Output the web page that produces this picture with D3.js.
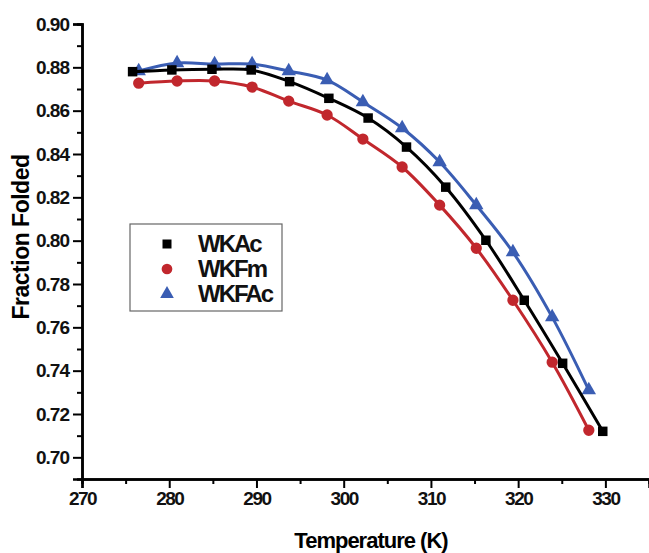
<!DOCTYPE html>
<html>
<head>
<meta charset="utf-8" />
<title>Fraction Folded vs Temperature</title>
<script src="https://d3js.org/d3.v7.min.js"></script>
<style>
body {
    margin: 0;
    background-color: #ffffff;
}
text {
    font-family: 'Liberation Sans', Arial, sans-serif;
    font-weight: 700;
}
</style>
</head>
<body>
<svg id="chart"></svg>
<script>
// temperatures (K)
var tempWKAc = [275.8, 280.3, 284.9, 289.4, 293.8, 298.3, 302.8, 307.2, 311.7, 316.3, 320.7, 325.1, 329.7];
var tempOther = [276.5, 280.9, 285.2, 289.5, 293.7, 298.1, 302.2, 306.7, 311.0, 315.2, 319.4, 323.9, 328.1];

var wkac = [0.878, 0.8788, 0.8791, 0.8788, 0.8734, 0.8657, 0.8566, 0.8432, 0.8247, 0.8002, 0.7725, 0.7434, 0.7120];
var wkfm = [0.8727, 0.8737, 0.8737, 0.8709, 0.8644, 0.8580, 0.8469, 0.8340, 0.8164, 0.7965, 0.7725, 0.7439, 0.7125];
var wkfac = [0.8783, 0.8820, 0.8815, 0.8815, 0.8783, 0.8741, 0.8640, 0.8520, 0.8363, 0.8164, 0.7947, 0.7647, 0.7310];

var xTicks = [270, 280, 290, 300, 310, 320, 330];
var yTicks = [0.70, 0.72, 0.74, 0.76, 0.78, 0.80, 0.82, 0.84, 0.86, 0.88, 0.90];

var series = [
    { name: "WKFAc", temps: tempOther, values: wkfac, color: "#3a5db3", symbol: d3.symbolTriangle, size: 90 },
    { name: "WKFm", temps: tempOther, values: wkfm, color: "#c1272d", symbol: d3.symbolCircle, size: 100 },
    { name: "WKAc", temps: tempWKAc, values: wkac, color: "#000000", symbol: d3.symbolSquare, size: 90 }
];
var legendOrder = ["WKAc", "WKFm", "WKFAc"];

var width = 649, height = 553;
var svg = d3.select("#chart").attr("width", width).attr("height", height);

var x = d3.scaleLinear().domain([270, 335]).range([82, 649]);
var y = d3.scaleLinear().domain([0.69, 0.90]).range([479, 24]);

// y axis
var yAxis = d3.axisLeft(y).tickValues(yTicks).tickSize(9).tickPadding(4)
    .tickFormat(d3.format(".2f"));
var yMinor = d3.axisLeft(y).tickValues(d3.range(0.71, 0.90, 0.02)).tickSize(5).tickFormat("");

var gy = svg.append("g").attr("transform", "translate(82,0)").call(yAxis);
svg.append("g").attr("transform", "translate(82,0)").call(yMinor);

// x axis
var xAxis = d3.axisBottom(x).tickValues(xTicks).tickSize(9).tickPadding(4)
    .tickFormat(d3.format("d"));
var xMinor = d3.axisBottom(x).tickValues(d3.range(275, 335, 10)).tickSize(5).tickFormat("");

var gx = svg.append("g").attr("transform", "translate(0,479)").call(xAxis);
svg.append("g").attr("transform", "translate(0,479)").call(xMinor);

svg.selectAll(".domain").attr("stroke", "#000").attr("stroke-width", 2.5);
svg.selectAll(".tick line").attr("stroke", "#000").attr("stroke-width", 2);

gy.selectAll("text").attr("font-size", "19px").attr("font-weight", 700)
    .attr("fill", "#111").attr("letter-spacing", "-1px")
    .attr("font-family", "'Liberation Sans', Arial, sans-serif");
gx.selectAll("text").attr("font-size", "19px").attr("font-weight", 700)
    .attr("fill", "#111").attr("letter-spacing", "-1.5px")
    .attr("font-family", "'Liberation Sans', Arial, sans-serif");

// axis titles
svg.append("text")
    .attr("x", 371).attr("y", 548)
    .attr("text-anchor", "middle")
    .attr("font-size", "22px")
    .attr("letter-spacing", "-1px")
    .text("Temperature (K)");

svg.append("text")
    .attr("transform", "translate(29,237) rotate(-90)")
    .attr("text-anchor", "middle")
    .attr("font-size", "23px")
    .attr("letter-spacing", "-0.5px")
    .text("Fraction Folded");

// lines and markers
var line = d3.line()
    .x(function(d) { return x(d.t); })
    .y(function(d) { return y(d.v); })
    .curve(d3.curveCatmullRom.alpha(0.5));

series.forEach(function(s) {
    var pts = s.temps.map(function(t, i) { return { t: t, v: s.values[i] }; });
    svg.append("path")
        .datum(pts)
        .attr("d", line)
        .attr("fill", "none")
        .attr("stroke", s.color)
        .attr("stroke-width", 3);

    svg.append("g").selectAll("path")
        .data(pts)
        .enter().append("path")
        .attr("d", d3.symbol().type(s.symbol).size(s.size))
        .attr("transform", function(d) {
            return "translate(" + x(d.t) + "," + y(d.v) + ")";
        })
        .attr("fill", s.color);
});

// legend
var legend = svg.append("g").attr("transform", "translate(130,224)");
legend.append("rect")
    .attr("width", 152).attr("height", 87)
    .attr("fill", "#fff")
    .attr("stroke", "#666")
    .attr("stroke-width", 1.2);

legendOrder.forEach(function(name, i) {
    var s = series.filter(function(d) { return d.name === name; })[0];
    var row = legend.append("g").attr("transform", "translate(37," + (20 + i * 25) + ")");
    row.append("path")
        .attr("d", d3.symbol().type(s.symbol).size(s.size * 0.9))
        .attr("fill", s.color);
    row.append("text")
        .attr("x", 31).attr("y", 8)
        .attr("font-size", "24px")
        .attr("letter-spacing", "-2px")
        .attr("fill", "#111")
        .text(s.name);
});
</script>
</body>
</html>
